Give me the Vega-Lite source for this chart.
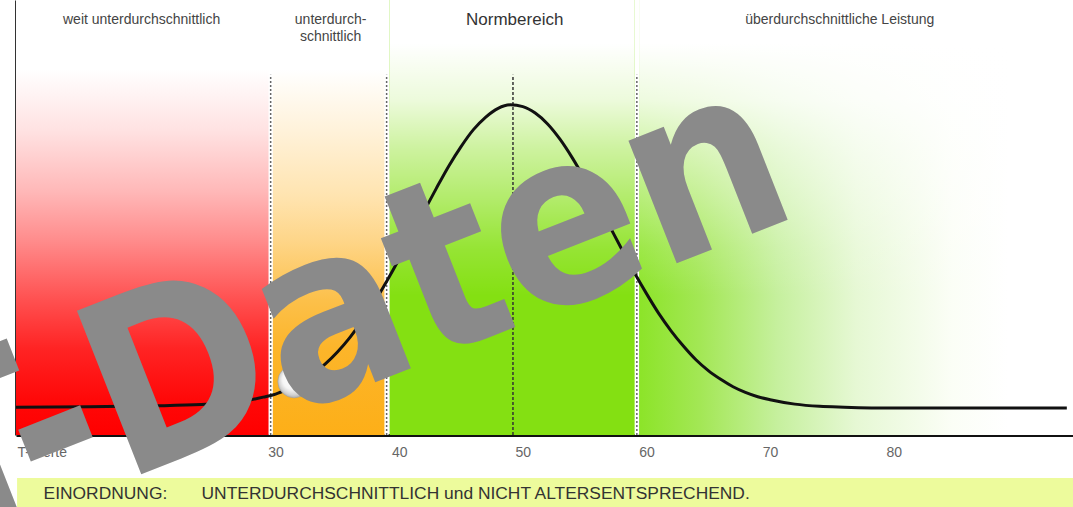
{
  "$schema": "https://vega.github.io/schema/vega-lite/v6.json",
  "width": 1057,
  "height": 435,
  "autosize": {"type": "none"},
  "padding": {"left": 16, "top": 0, "right": 0, "bottom": 72},
  "background": "white",
  "config": {"font": "Liberation Sans", "view": {"stroke": null}},
  "datasets": {
    "zonen": [
      {"zone": "weit", "label": "weit unterdurchschnittlich", "von": 9, "bis": 29.45, "mitte": 19.16},
      {"zone": "unter", "label": "unterdurch-\nschnittlich", "von": 29.75, "bis": 38.82, "mitte": 34.45},
      {"zone": "norm", "label": "Normbereich", "von": 39.22, "bis": 59.05, "mitte": 49.34},
      {"zone": "ueber", "label": "überdurchschnittliche Leistung", "von": 59.4, "bis": 94.5, "mitte": 75.63}
    ],
    "grenzen": [{"T": 29.6}, {"T": 38.98}, {"T": 59.22}],
    "mittel": [{"T": 49.2}],
    "kurve": [
      {"T": 9, "v": 6.4}, {"T": 15, "v": 6.5}, {"T": 20, "v": 6.7}, {"T": 24, "v": 7.0},
      {"T": 26, "v": 7.4}, {"T": 27, "v": 7.7}, {"T": 28, "v": 8.1}, {"T": 29, "v": 8.7},
      {"T": 30, "v": 9.4}, {"T": 31, "v": 10.6}, {"T": 32, "v": 12.1}, {"T": 33, "v": 14.0},
      {"T": 34, "v": 16.3}, {"T": 35, "v": 19.1}, {"T": 36, "v": 22.4}, {"T": 37, "v": 26.3},
      {"T": 38, "v": 30.6}, {"T": 39, "v": 35.4}, {"T": 40, "v": 40.5}, {"T": 41, "v": 45.9},
      {"T": 42, "v": 51.4}, {"T": 43, "v": 56.7}, {"T": 44, "v": 61.8}, {"T": 45, "v": 66.3},
      {"T": 46, "v": 70.2}, {"T": 47, "v": 73.1}, {"T": 48, "v": 75.1}, {"T": 49, "v": 75.9},
      {"T": 50, "v": 75.5}, {"T": 51, "v": 74.0}, {"T": 52, "v": 71.5}, {"T": 53, "v": 68.0},
      {"T": 54, "v": 63.7}, {"T": 55, "v": 58.8}, {"T": 56, "v": 53.5}, {"T": 57, "v": 48.1},
      {"T": 58, "v": 42.7}, {"T": 59, "v": 37.4}, {"T": 60, "v": 32.5}, {"T": 61, "v": 27.9},
      {"T": 62, "v": 23.9}, {"T": 63, "v": 20.4}, {"T": 64, "v": 17.3}, {"T": 65, "v": 14.8},
      {"T": 66, "v": 12.8}, {"T": 67, "v": 11.1}, {"T": 68, "v": 9.8}, {"T": 69, "v": 8.8},
      {"T": 70, "v": 8.1}, {"T": 72, "v": 7.1}, {"T": 74, "v": 6.6}, {"T": 76, "v": 6.4},
      {"T": 80, "v": 6.2}, {"T": 85, "v": 6.2}, {"T": 90, "v": 6.2}, {"T": 94, "v": 6.2}
    ],
    "person": [{"T": 31.5, "v": 12.3}],
    "einordnung": [
      {"text": "EINORDNUNG:", "T": 11.23},
      {"text": "UNTERDURCHSCHNITTLICH und NICHT ALTERSENTSPRECHEND.", "T": 24.01}
    ]
  },
  "layer": [
    {
      "data": {"name": "zonen"},
      "transform": [{"filter": "datum.zone === 'weit'"}],
      "mark": {"type": "rect", "color": {"gradient": "linear", "x1": 0, "y1": 0, "x2": 0, "y2": 1, "stops": [
        {"offset": 0, "color": "#ffffff"}, {"offset": 0.16, "color": "#ffffff"}, {"offset": 0.3, "color": "#ffe2e2"},
        {"offset": 0.44, "color": "#ffb8b8"}, {"offset": 0.55, "color": "#ff8d8d"}, {"offset": 0.69, "color": "#ff5050"},
        {"offset": 0.8, "color": "#ff2424"}, {"offset": 0.92, "color": "#ff0808"}, {"offset": 1, "color": "#ff0000"}]}},
      "encoding": {
        "x": {"field": "von", "type": "quantitative", "scale": {"domain": [9, 94.5], "nice": false, "zero": false},
          "axis": {"values": [30, 40, 50, 60, 70, 80], "ticks": false, "grid": false, "domainColor": "#111", "domainWidth": 3,
            "labelFontSize": 14, "labelColor": "#666", "labelPadding": 10, "labelFlush": false,
            "title": "T-Werte", "titleAnchor": "start", "titleAlign": "left", "titleX": 1, "titleY": 10, "titleBaseline": "top",
            "titleFontSize": 14, "titleFontWeight": "normal", "titleColor": "#666"}},
        "x2": {"field": "bis"},
        "y": {"datum": 0, "type": "quantitative", "scale": {"domain": [0, 100], "nice": false, "zero": false},
          "axis": {"labels": false, "ticks": false, "grid": false, "title": null, "domainColor": "#333", "domainWidth": 3}},
        "y2": {"datum": 100}
      }
    },
    {
      "data": {"name": "zonen"},
      "transform": [{"filter": "datum.zone === 'unter'"}],
      "mark": {"type": "rect", "color": {"gradient": "linear", "x1": 0, "y1": 0, "x2": 0, "y2": 1, "stops": [
        {"offset": 0, "color": "#ffffff"}, {"offset": 0.16, "color": "#ffffff"}, {"offset": 0.3, "color": "#fff2da"},
        {"offset": 0.45, "color": "#ffe4b0"}, {"offset": 0.55, "color": "#fed68a"}, {"offset": 0.69, "color": "#fcc04a"},
        {"offset": 0.8, "color": "#fcb52a"}, {"offset": 1, "color": "#fdaf18"}]}},
      "encoding": {
        "x": {"field": "von", "type": "quantitative"},
        "x2": {"field": "bis"},
        "y": {"datum": 0, "type": "quantitative"},
        "y2": {"datum": 100}
      }
    },
    {
      "data": {"name": "zonen"},
      "transform": [{"filter": "datum.zone === 'norm'"}],
      "mark": {"type": "rect", "color": "#84e012"},
      "encoding": {
        "x": {"field": "von", "type": "quantitative"},
        "x2": {"field": "bis"},
        "y": {"datum": 0, "type": "quantitative"},
        "y2": {"datum": 100}
      }
    },
    {
      "data": {"name": "zonen"},
      "transform": [{"filter": "datum.zone === 'ueber'"}],
      "mark": {"type": "rect", "color": {"gradient": "linear", "x1": 0, "y1": 0, "x2": 1, "y2": 0, "stops": [
        {"offset": 0, "color": "#8ce428"}, {"offset": 0.14, "color": "#a3e755"}, {"offset": 0.32, "color": "#c6f09e"},
        {"offset": 0.5, "color": "#e6f8d4"}, {"offset": 0.72, "color": "#fbfef6"}, {"offset": 0.85, "color": "#ffffff"},
        {"offset": 1, "color": "#ffffff"}]}},
      "encoding": {
        "x": {"field": "von", "type": "quantitative"},
        "x2": {"field": "bis"},
        "y": {"datum": 0, "type": "quantitative"},
        "y2": {"datum": 100}
      }
    },
    {
      "data": {"name": "zonen"},
      "transform": [{"filter": "datum.zone === 'norm' || datum.zone === 'ueber'"}],
      "mark": {"type": "rect", "color": {"gradient": "linear", "x1": 0, "y1": 0, "x2": 0, "y2": 1, "stops": [
        {"offset": 0, "color": "rgba(255,255,255,1)"}, {"offset": 0.1, "color": "rgba(255,255,255,1)"},
        {"offset": 0.23, "color": "rgba(255,255,255,0.85)"}, {"offset": 0.34, "color": "rgba(255,255,255,0.6)"},
        {"offset": 0.46, "color": "rgba(255,255,255,0.37)"}, {"offset": 0.57, "color": "rgba(255,255,255,0.15)"},
        {"offset": 0.68, "color": "rgba(255,255,255,0)"}, {"offset": 1, "color": "rgba(255,255,255,0)"}]}},
      "encoding": {
        "x": {"field": "von", "type": "quantitative"},
        "x2": {"field": "bis"},
        "y": {"datum": 0, "type": "quantitative"},
        "y2": {"datum": 100}
      }
    },
    {
      "data": {"name": "grenzen"},
      "mark": {"type": "rule", "color": "#ffffff", "strokeWidth": 4},
      "encoding": {
        "x": {"field": "T", "type": "quantitative"},
        "y": {"datum": 0, "type": "quantitative"},
        "y2": {"datum": 82.8}
      }
    },
    {
      "data": {"name": "grenzen"},
      "mark": {"type": "rule", "color": "#666666", "strokeWidth": 1.5, "strokeDash": [2, 2]},
      "encoding": {
        "x": {"field": "T", "type": "quantitative"},
        "y": {"datum": 0, "type": "quantitative"},
        "y2": {"datum": 82.8}
      }
    },
    {
      "data": {"name": "mittel"},
      "mark": {"type": "rule", "color": "#333333", "strokeWidth": 1.5, "strokeDash": [3, 2]},
      "encoding": {
        "x": {"field": "T", "type": "quantitative"},
        "y": {"datum": 0, "type": "quantitative"},
        "y2": {"datum": 82.8}
      }
    },
    {
      "data": {"name": "kurve"},
      "mark": {"type": "line", "color": "#111111", "strokeWidth": 3, "interpolate": "monotone"},
      "encoding": {
        "x": {"field": "T", "type": "quantitative"},
        "y": {"field": "v", "type": "quantitative"}
      }
    },
    {
      "data": {"name": "person"},
      "mark": {"type": "point", "shape": "circle", "filled": true, "size": 1075, "opacity": 1, "stroke": "#9a9a9a", "strokeWidth": 0.5,
        "fill": {"gradient": "radial", "x1": 0.38, "y1": 0.35, "r1": 0, "x2": 0.5, "y2": 0.5, "r2": 0.55, "stops": [
          {"offset": 0, "color": "#ffffff"}, {"offset": 0.55, "color": "#f6f6f6"}, {"offset": 0.8, "color": "#d2d2d2"}, {"offset": 1, "color": "#9a9a9a"}]}},
      "encoding": {
        "x": {"field": "T", "type": "quantitative"},
        "y": {"field": "v", "type": "quantitative"}
      }
    },
    {
      "data": {"name": "zonen"},
      "transform": [{"filter": "datum.zone !== 'norm'"}],
      "mark": {"type": "text", "fontSize": 14, "color": "#444444", "align": "center", "baseline": "middle", "lineBreak": "\n", "lineHeight": 17},
      "encoding": {
        "x": {"field": "mitte", "type": "quantitative"},
        "y": {"datum": 95.4, "type": "quantitative"},
        "text": {"field": "label"}
      }
    },
    {
      "data": {"name": "zonen"},
      "transform": [{"filter": "datum.zone === 'norm'"}],
      "mark": {"type": "text", "fontSize": 17, "color": "#333333", "align": "center", "baseline": "middle"},
      "encoding": {
        "x": {"field": "mitte", "type": "quantitative"},
        "y": {"datum": 95.4, "type": "quantitative"},
        "text": {"field": "label"}
      }
    },
    {
      "data": {"name": "einordnung"},
      "mark": {"type": "rect", "color": "#edfb9c"},
      "encoding": {
        "x": {"datum": 9.1, "type": "quantitative"},
        "x2": {"datum": 94.5},
        "y": {"datum": -9.9, "type": "quantitative"},
        "y2": {"datum": -16.6}
      }
    },
    {
      "data": {"name": "einordnung"},
      "mark": {"type": "text", "fontSize": 17.4, "color": "#333333", "align": "left", "baseline": "middle"},
      "encoding": {
        "x": {"field": "T", "type": "quantitative"},
        "y": {"datum": -13.56, "type": "quantitative"},
        "text": {"field": "text"}
      }
    },
    {
      "data": {"values": [{"wasserzeichen": "T-Daten"}]},
      "mark": {"type": "text", "font": "'DejaVu Sans Condensed', 'DejaVu Sans'", "fontWeight": "bold", "fontSize": 241, "angle": -21.5,
        "color": "#8a8a8a", "align": "center", "baseline": "alphabetic"},
      "encoding": {
        "x": {"datum": 37.55, "type": "quantitative"},
        "y": {"datum": 11.6, "type": "quantitative"},
        "text": {"field": "wasserzeichen"}
      }
    }
  ]
}
